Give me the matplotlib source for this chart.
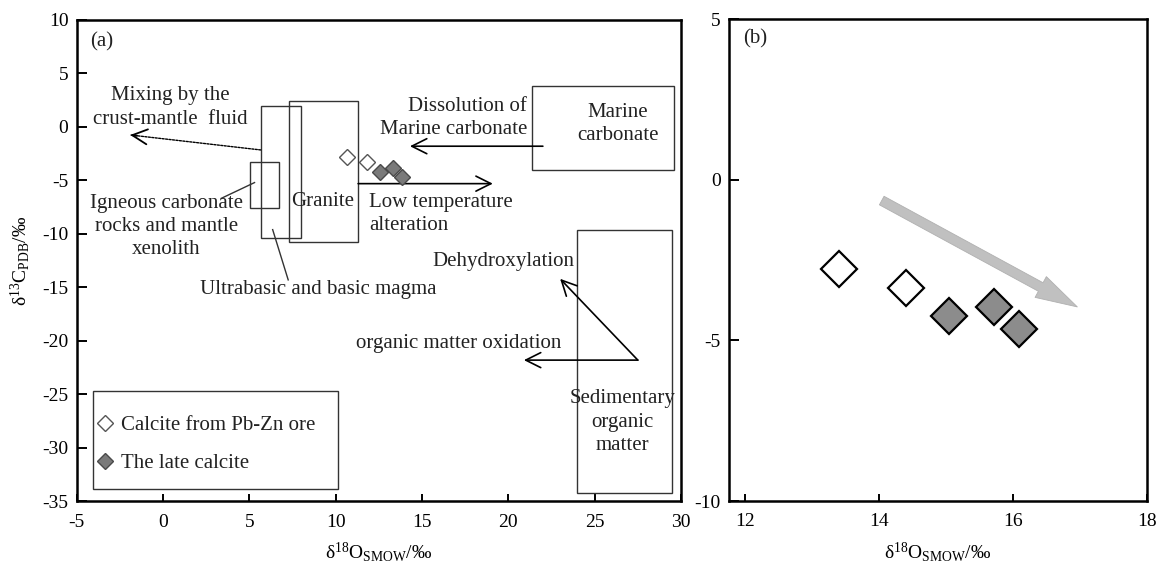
import matplotlib
matplotlib.use("Agg")
import matplotlib.pyplot as plt
from matplotlib.patches import Rectangle, FancyArrowPatch

plt.rcParams['font.family'] = ['Liberation Serif', 'DejaVu Serif']
plt.rcParams['mathtext.fontset'] = 'custom'
plt.rcParams['mathtext.rm'] = 'Liberation Serif'
plt.rcParams['mathtext.it'] = 'Liberation Serif:italic'
plt.rcParams['axes.unicode_minus'] = False

# ---------------- data ----------------
# panel (a) sample positions (as drawn in the reference)
a_ore_x = [10.67, 11.79]
a_ore_y = [-2.78, -3.30]
a_late_x = [12.56, 13.33, 13.82]
a_late_y = [-4.18, -3.86, -4.70]

# panel (b) sample positions
b_ore_x = [13.40, 14.40]
b_ore_y = [-2.77, -3.37]
b_late_x = [15.04, 15.72, 16.09]
b_late_y = [-4.23, -3.95, -4.64]

# source fields in panel (a): (x0, x1, y0, y1)
field_names = ["Igneous", "Ultrabasic", "Granite", "Marine", "Sedimentary"]
field_x0 = [5.03, 5.66, 7.29, 21.36, 24.00]
field_x1 = [6.72, 7.97, 11.30, 29.60, 29.45]
field_y0 = [-7.60, -10.35, -10.80, -3.98, -34.20]
field_y1 = [-3.24, 1.96, 2.43, 3.85, -9.64]

a_xticks = [-5, 0, 5, 10, 15, 20, 25, 30]
a_yticks = [10, 5, 0, -5, -10, -15, -20, -25, -30, -35]
b_xticks = [12, 14, 16, 18]
b_yticks = [5, 0, -5, -10]

legend_labels = ["Calcite from Pb-Zn ore", "The late calcite"]

FS = 14
TFS = 15
xlabel = "δ$^{18}$O$_{\\mathrm{SMOW}}$/‰"
ylabel = "δ$^{13}$C$_{\\mathrm{PDB}}$/‰"

fig = plt.figure(figsize=(11.6, 5.64), dpi=100)
W, H = 1160, 564
axa = fig.add_axes([76.7 / W, 1 - 501.3 / H, (681 - 76.7) / W, (501.3 - 20) / H])
axb = fig.add_axes([729 / W, 1 - 501 / H, (1147 - 729) / W, (501 - 19) / H])

for ax in (axa, axb):
    for s in ax.spines.values():
        s.set_linewidth(1.8)
    ax.tick_params(axis='both', direction='in', labelsize=FS, width=1.4,
                   top=False, right=False)
    ax.tick_params(axis='y', length=7, pad=6)
    ax.tick_params(axis='x', length=5, pad=9)

# ---------------- panel (a) ----------------
axa.set_xlim(-5, 30)
axa.set_ylim(-35, 10)
axa.set_xticks(a_xticks)
axa.set_yticks(a_yticks)

box_color = '#333333'
for x0, x1, y0, y1 in zip(field_x0, field_x1, field_y0, field_y1):
    axa.add_patch(Rectangle((x0, y0), x1 - x0, y1 - y0, fill=False,
                            edgecolor=box_color, lw=1.0, clip_on=False, zorder=2))

def arrow(ax, start, end, lw=1.2):
    ax.annotate('', xy=end, xytext=start, xycoords='data', textcoords='data',
                arrowprops=dict(arrowstyle='->,head_length=0.9,head_width=0.45',
                                color='black', lw=lw,
                                shrinkA=0, shrinkB=0, mutation_scale=12),
                zorder=3)

# mixing (dotted)
axa.annotate('', xy=(-1.9, -0.75), xytext=(5.66, -2.15),
             arrowprops=dict(arrowstyle='-', color='black', lw=1.0,
                             linestyle=(0, (1.5, 1.0)), shrinkA=0, shrinkB=0))
axa.annotate('', xy=(-1.9, -0.75), xytext=(-1.5, -0.82),
             arrowprops=dict(arrowstyle='->,head_length=0.9,head_width=0.45',
                             color='black', lw=1.3, shrinkA=0, shrinkB=0,
                             mutation_scale=12))
arrow(axa, (22.0, -1.8), (14.3, -1.8))
arrow(axa, (11.3, -5.3), (19.1, -5.3))
arrow(axa, (27.5, -21.8), (23.0, -14.2))
arrow(axa, (27.5, -21.8), (20.9, -21.8))
# pointer lines
axa.plot([3.38, 5.3], [-6.67, -5.2], color=box_color, lw=1.0)
axa.plot([6.35, 7.25], [-9.6, -14.3], color=box_color, lw=1.0)

txt = dict(fontsize=TFS, color='#222222', linespacing=1.3)
axa.text(0.022, 0.955, "(a)", transform=axa.transAxes, ha='left', va='center', **txt)
axa.text(0.4, 1.82, "Mixing by the\ncrust-mantle  fluid", ha='center', va='center',
         multialignment='center', **txt)
axa.text(21.1, 0.84, "Dissolution of\nMarine carbonate", ha='right', va='center',
         multialignment='right', **txt)
axa.text(26.36, 0.27, "Marine\ncarbonate", ha='center', va='center',
         multialignment='center', **txt)
axa.text(9.27, -6.98, "Granite", ha='center', va='center', **txt)
axa.text(11.94, -8.15, "Low temperature\nalteration", ha='left', va='center',
         multialignment='left', **txt)
axa.text(0.2, -9.3, "Igneous carbonate\nrocks and mantle\nxenolith", ha='center',
         va='center', multialignment='center', **txt)
axa.text(8.97, -15.2, "Ultrabasic and basic magma", ha='center', va='center', **txt)
axa.text(19.7, -12.6, "Dehydroxylation", ha='center', va='center', **txt)
axa.text(17.1, -20.2, "organic matter oxidation", ha='center', va='center', **txt)
axa.text(26.6, -27.6, "Sedimentary\norganic\nmatter", ha='center', va='center',
         multialignment='center', **txt)

h1, = axa.plot(a_ore_x, a_ore_y, ls='none', marker='D', ms=8.5, mfc='white',
               mec='#555555', mew=1.0, zorder=4, label=legend_labels[0])
h2, = axa.plot(a_late_x, a_late_y, ls='none', marker='D', ms=8.5, mfc='#7a7a7a',
               mec='#4a4a4a', mew=1.0, zorder=4, label=legend_labels[1])

# legend frame
axa.add_patch(Rectangle((-4.04, -33.83), 10.15 + 4.04, -24.65 + 33.83, fill=False,
                        edgecolor=box_color, lw=1.0, zorder=2))
leg = axa.legend(handles=[h1, h2], loc='upper left', bbox_to_anchor=(0.012, 0.208),
                 frameon=False, fontsize=TFS, handlelength=0.6, handletextpad=0.5,
                 labelspacing=0.88, borderpad=0.2)
for t in leg.get_texts():
    t.set_color('#222222')

axa.set_xlabel(xlabel, fontsize=FS)
axa.xaxis.set_label_coords(0.5, -0.105)
axa.xaxis.label.set_va('center')
axa.set_ylabel(ylabel, fontsize=FS)
axa.yaxis.set_label_coords(-0.094, 0.5)
axa.yaxis.label.set_va('center')

# ---------------- panel (b) ----------------
axb.set_xlim(11.76, 18)
axb.set_ylim(-10, 5)
axb.set_xticks(b_xticks)
axb.set_yticks(b_yticks)

axb.add_patch(FancyArrowPatch((14.04, -0.65), (16.96, -3.96),
                              arrowstyle='simple,head_length=30,head_width=17,tail_width=7',
                              mutation_scale=1, facecolor='#c0c0c0', edgecolor='#b0b0b0',
                              lw=0.6, shrinkA=0, shrinkB=0, zorder=2))
axb.plot(b_ore_x, b_ore_y, ls='none', marker='D', ms=18, mfc='white',
         mec='black', mew=1.6, zorder=4)
axb.plot(b_late_x, b_late_y, ls='none', marker='D', ms=18, mfc='#8c8c8c',
         mec='black', mew=1.6, zorder=4)
axb.text(0.033, 0.958, "(b)", transform=axb.transAxes, ha='left', va='center', **txt)

axb.set_xlabel(xlabel, fontsize=FS)
axb.xaxis.set_label_coords(0.5, -0.105)
axb.xaxis.label.set_va('center')

fig.savefig("out.png", dpi=100)
